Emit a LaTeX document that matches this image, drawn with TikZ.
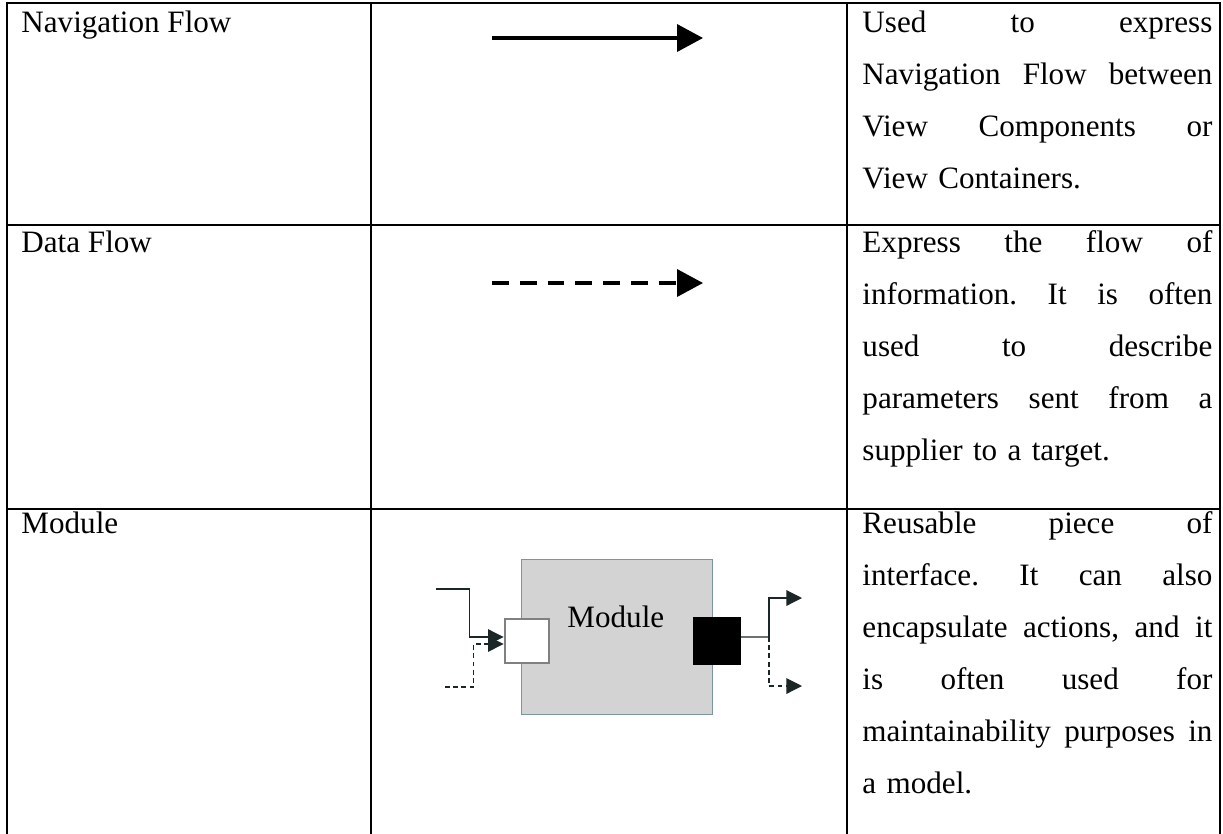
\documentclass[tikz,border=0pt]{standalone}
\usepackage{fontspec}
\setmainfont{Liberation Serif}
\usetikzlibrary{arrows.meta}

\definecolor{modfill}{RGB}{211,211,211}
\definecolor{modedge}{RGB}{122,150,155}
\definecolor{portedge}{RGB}{128,128,128}
\definecolor{wire}{RGB}{27,38,38}

% width of the description column and a fully justified line of it
\newlength\colw \setlength\colw{157.5pt}
\newcommand\jline[1]{\leavevmode\hbox to\colw{\frenchspacing\spaceskip=0pt\xspaceskip=0pt\relax #1}}

\begin{document}
\begin{tikzpicture}[x=0.45pt,y=-0.45pt,
  rule/.style={line width=1pt, line cap=rect},
  body/.style={font=\fontsize{14pt}{23.4pt}\selectfont\frenchspacing, inner sep=0pt},
  label/.style={body, anchor=base west},
  desc/.style={body, anchor=north west, text width=\colw, align=left},
  navarrow/.style={line width=1.5pt, -{Triangle[length=11.7pt,width=12.2pt]}},
  dataarrow/.style={navarrow, dash pattern=on 7.6pt off 4.9pt},
  modbox/.style={draw=modedge, fill=modfill, line width=0.45pt, minimum width=85.8pt, minimum height=69.75pt, inner sep=0pt},
  inport/.style={draw=portedge, fill=white, line width=0.9pt, minimum size=20.2pt, inner sep=0pt},
  outport/.style={fill=black, minimum size=21.4pt, inner sep=0pt},
  wireline/.style={draw=wire, line width=0.5pt},
  wirearrow/.style={wireline, -{Triangle[length=7pt,width=7pt]}},
  wiredash/.style={dash pattern=on 2.2pt off 1.5pt}
]
\useasboundingbox (0,0) rectangle (1223,833);

% table rules
\draw[rule] (7,3) -- (1220,3);
\draw[rule] (7,225) -- (1220,225);
\draw[rule] (7,509) -- (1220,509);
\foreach \x in {7,371,847,1220} \draw[rule] (\x,3) -- (\x,833);

% first column
\node[label] (nav)  at (21,32)  {Navigation Flow};
\node[label] (data) at (21,252) {Data Flow};
\node[label] (mod)  at (21,533) {Module};

% third column (first baseline = top + strut height of 36.4 units)
\node[desc] (navtxt) at (862,-4.4) {\strut\jline{Used to express}\\
  \jline{Navigation Flow between}\\
  \jline{View Components or}\\
  View Containers.};
\node[desc] (datatxt) at (862,215.6) {\strut\jline{Express the flow of}\\
  \jline{information. It is often}\\
  \jline{used to describe}\\
  \jline{parameters sent from a}\\
  supplier to a target.};
\node[desc] (modtxt) at (862,496.6) {\strut\jline{Reusable piece of}\\
  \jline{interface. It can also}\\
  \jline{encapsulate actions, and it}\\
  \jline{is often used for}\\
  \jline{maintainability purposes in}\\
  a model.};

% second column: the two flow arrows
\coordinate (navA) at (492,38);
\coordinate (navB) at (703,38);
\draw[navarrow] (navA) -- (navB);
\coordinate (dataA) at (492,283);
\coordinate (dataB) at (703,283);
\draw[dataarrow] (dataA) -- (dataB);

% second column: the module symbol
\node[modbox] (box) at (617,637) {};
\node[body, anchor=base west] (boxname) at (567,627) {Module};
\node[inport] (wport) at (527,641) {};
\node[outport] (bport) at (717,641) {};

\coordinate (inA) at (436,589);
\coordinate (inB) at (445,687);
\draw[wirearrow] (inA) -| ([xshift=-15.3pt,yshift=1.8pt]wport.west) -- ([yshift=1.8pt]wport.west);
\draw[wirearrow, wiredash] (inB) -| ([xshift=-13.4pt,yshift=-1.35pt]wport.west) -- ([yshift=-1.35pt]wport.west);

\coordinate (jn) at (769,637);
\coordinate (outA) at (802,598);
\coordinate (outB) at (802,686);
\draw[wireline] ([yshift=1.8pt]bport.east) -- (jn);
\draw[wirearrow] (jn) |- (outA);
\draw[wirearrow, wiredash] (jn) |- (outB);
\end{tikzpicture}
\end{document}
